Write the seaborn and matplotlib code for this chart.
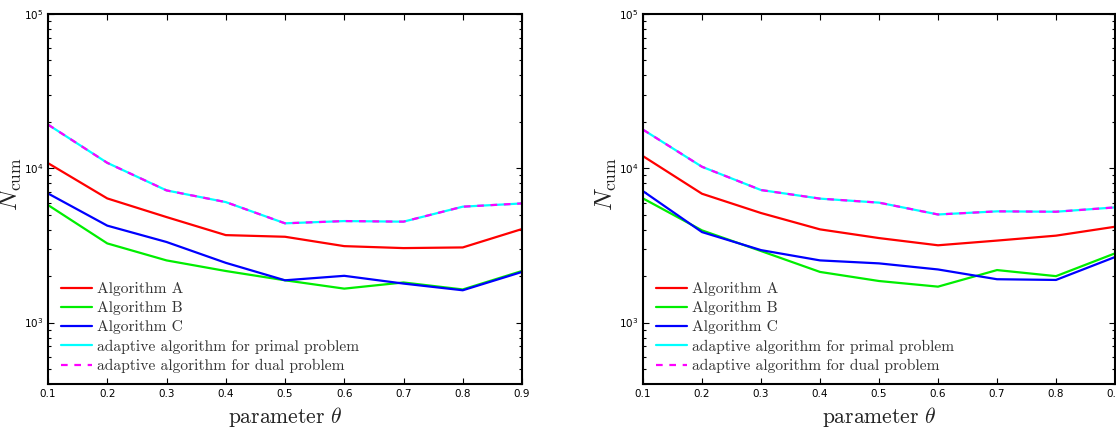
import numpy as np
import pandas as pd
import matplotlib
matplotlib.use("Agg")
import matplotlib.pyplot as plt
import seaborn as sns
from matplotlib.ticker import LogLocator, FixedLocator

theta = [0.1, 0.2, 0.3, 0.4, 0.5, 0.6, 0.7, 0.8, 0.9]

# left panel
left_alg_a = [10800, 6380, 4830, 3690, 3600, 3130, 3040, 3070, 4040]
left_alg_b = [5780, 3260, 2530, 2160, 1880, 1660, 1820, 1640, 2160]
left_alg_c = [6870, 4250, 3330, 2440, 1880, 2010, 1790, 1620, 2130]
left_adaptive = [19200, 10850, 7190, 6040, 4400, 4550, 4510, 5640, 5920]

# right panel
right_alg_a = [11990, 6840, 5130, 4020, 3530, 3170, 3400, 3660, 4180]
right_alg_b = [6380, 3960, 2910, 2130, 1860, 1710, 2190, 2000, 2810]
right_alg_c = [7110, 3860, 2950, 2530, 2420, 2210, 1910, 1890, 2660]
right_adaptive = [17800, 10230, 7230, 6360, 5990, 5020, 5260, 5230, 5580]

labels = ["Algorithm A", "Algorithm B", "Algorithm C",
          "adaptive algorithm for primal problem",
          "adaptive algorithm for dual problem"]

sns.set_style("ticks")
plt.rcParams["mathtext.fontset"] = "cm"
plt.rcParams["axes.unicode_minus"] = False

W, H = 1116, 429
fig = plt.figure(figsize=(W / 100, H / 100), dpi=100)

def draw_panel(rect, a, b, c, adapt):
    ax = fig.add_axes(rect)
    sns.lineplot(x=theta, y=a, color="#ff0000", lw=1.6, ax=ax, label=labels[0])
    sns.lineplot(x=theta, y=b, color="#00ee00", lw=1.6, ax=ax, label=labels[1])
    sns.lineplot(x=theta, y=c, color="#0000ff", lw=1.6, ax=ax, label=labels[2])
    sns.lineplot(x=theta, y=adapt, color="#00ffff", lw=1.6, ax=ax, label=labels[3])
    sns.lineplot(x=theta, y=adapt, color="#ff00ff", lw=1.6, ls=(0, (3, 3)),
                 ax=ax, label=labels[4])
    ax.set_yscale("log")
    ax.set_xlim(0.1, 0.9)
    ax.set_ylim(400, 1e5)
    ax.xaxis.set_major_locator(FixedLocator(theta))
    ax.set_xticklabels([f"{t:.1f}" for t in theta])
    ax.yaxis.set_major_locator(LogLocator(base=10, numticks=10))
    ax.yaxis.set_minor_locator(LogLocator(base=10, subs=np.arange(2, 10), numticks=10))
    ax.tick_params(which="both", direction="in", top=True, right=True,
                   labelsize=7.5, width=0.8, colors="black")
    ax.tick_params(which="major", length=4)
    ax.tick_params(which="minor", length=2)
    for sp in ax.spines.values():
        sp.set_linewidth(1.5)
        sp.set_color("black")
    ax.set_xlabel(r"parameter $\theta$", fontsize=15.5, fontname="cmr10",
                  color="#222222")
    ax.xaxis.set_label_coords(0.5, -0.058)
    ax.set_ylabel(r"$N_{\rm cum}$", fontsize=18, color="#222222")
    ax.yaxis.set_label_coords(-0.05, 0.54)
    leg = ax.legend(loc="lower left", frameon=False, fontsize=11.2,
                    handlelength=2.0, labelspacing=0.33, handletextpad=0.3,
                    borderaxespad=0.3, bbox_to_anchor=(0.005, 0.0))
    for t in leg.get_texts():
        t.set_fontname("cmr10")
        t.set_color("#333333")
    return ax

ax1 = draw_panel([48 / W, 45 / H, 474 / W, 370 / H],
                 left_alg_a, left_alg_b, left_alg_c, left_adaptive)
ax2 = draw_panel([643 / W, 45 / H, 472 / W, 370 / H],
                 right_alg_a, right_alg_b, right_alg_c, right_adaptive)

fig.savefig("out.png", dpi=100)
